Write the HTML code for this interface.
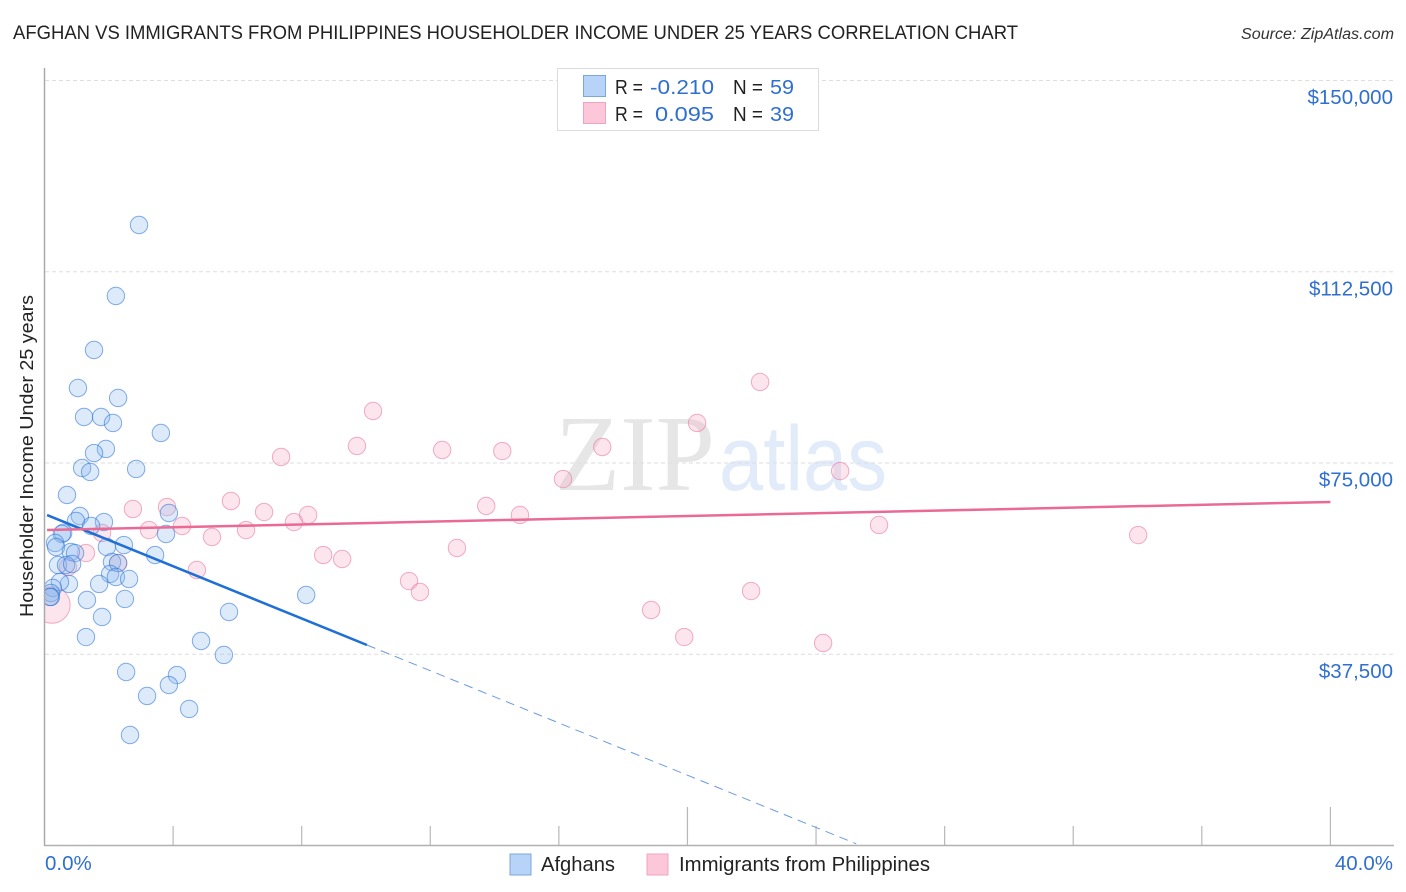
<!DOCTYPE html>
<html lang="en">
<head>
<meta charset="utf-8">
<title>Afghan vs Immigrants from Philippines Householder Income Under 25 Years Correlation Chart</title>
<style>
html,body{margin:0;padding:0;background:#fff;}
svg{display:block;font-family:"Liberation Sans",sans-serif;}
</style>
</head>
<body>
<svg id="chart" width="1406" height="892" viewBox="0 0 1406 892" xmlns="http://www.w3.org/2000/svg">
  <text x="13" y="39" font-size="19.5" fill="#222" textLength="1005" lengthAdjust="spacingAndGlyphs">AFGHAN VS IMMIGRANTS FROM PHILIPPINES HOUSEHOLDER INCOME UNDER 25 YEARS CORRELATION CHART</text>
  <text x="1241" y="39" font-size="15.5" font-style="italic" fill="#333" textLength="153" lengthAdjust="spacingAndGlyphs">Source: ZipAtlas.com</text>

  <g>
    <text x="555" y="490" font-family="'Liberation Serif',serif" font-size="108" fill="#e6e6e6" textLength="160" lengthAdjust="spacingAndGlyphs">ZIP</text>
    <text x="719" y="490" font-size="92" fill="#e1ebf9" textLength="168" lengthAdjust="spacingAndGlyphs">atlas</text>
  </g>

  <g id="grid"></g>
  <g id="marks"></g>
  <rect x="0" y="60" width="45" height="800" fill="#fff"/>
  <g id="axes"></g>
  <g id="trends"></g>

  <text transform="translate(33,456) rotate(-90)" text-anchor="middle" font-size="18.5" fill="#222" textLength="322" lengthAdjust="spacingAndGlyphs">Householder Income Under 25 years</text>

  <g>
    <rect x="557.5" y="68.5" width="261" height="62" fill="#fff" stroke="#dcdcdc" stroke-width="1"/>
    <rect x="583.5" y="75.5" width="22" height="21" fill="#b7d3f7" stroke="#7ba7de"/>
    <rect x="583.5" y="102.5" width="22" height="21" fill="#fcc7d8" stroke="#f0a5bd"/>
    <g font-size="20">
      <text x="615" y="94" fill="#222" textLength="28" lengthAdjust="spacingAndGlyphs">R =</text>
      <text x="650" y="94" fill="#2f6fd0" textLength="64" lengthAdjust="spacingAndGlyphs">-0.210</text>
      <text x="733" y="94" fill="#222" textLength="30" lengthAdjust="spacingAndGlyphs">N =</text>
      <text x="770" y="94" fill="#2f6fd0" textLength="24" lengthAdjust="spacingAndGlyphs">59</text>
      <text x="615" y="121" fill="#222" textLength="28" lengthAdjust="spacingAndGlyphs">R =</text>
      <text x="655" y="121" fill="#2f6fd0" textLength="59" lengthAdjust="spacingAndGlyphs">0.095</text>
      <text x="733" y="121" fill="#222" textLength="30" lengthAdjust="spacingAndGlyphs">N =</text>
      <text x="770" y="121" fill="#2f6fd0" textLength="24" lengthAdjust="spacingAndGlyphs">39</text>
    </g>
  </g>

  <g>
    <g>
      <rect x="510" y="854" width="21" height="21" fill="#b7d3f7" stroke="#7ba7de"/>
      <text x="541" y="871" font-size="20" fill="#222" textLength="74" lengthAdjust="spacingAndGlyphs">Afghans</text>
    </g>
    <g>
      <rect x="647" y="854" width="21" height="21" fill="#fcc7d8" stroke="#f0a5bd"/>
      <text x="679" y="871" font-size="20" fill="#222" textLength="251" lengthAdjust="spacingAndGlyphs">Immigrants from Philippines</text>
    </g>
  </g>
</svg>
<script>
const yTickValues = [37500, 75000, 112500, 150000];
const yTickLabels = ["$37,500", "$75,000", "$112,500", "$150,000"];
const xTickValues = [4, 8, 12, 16, 20, 24, 28, 32, 36, 40];
const xMajorTicks = [20, 40];
const xEndLabels = ["0.0%", "40.0%"];

const afghanX = [2.94,2.22,1.54,1.04,2.29,1.23,1.76,2.13,3.62,1.91,1.54,1.17,1.42,2.85,0.70,1.10,0.98,1.85,1.45,3.87,3.78,0.58,0.54,0.33,0.36,2.47,1.94,0.82,0.95,3.44,0.42,0.67,0.86,2.10,2.29,2.04,2.22,2.63,0.76,0.48,1.70,0.26,0.20,0.20,0.17,1.32,2.50,1.79,1.29,5.74,8.14,4.87,5.58,2.54,4.12,3.87,3.19,4.50,2.66];
const afghanY = [121570,107650,97060,89610,87650,83920,83920,82750,80790,77650,76860,73920,73140,73730,68630,64510,63530,63330,62550,65100,60980,61180,60980,59220,58430,58820,58430,57450,57250,56860,54900,54900,55100,55490,55290,53140,52550,52160,51180,51570,51180,50390,49410,48630,48630,48040,48240,44710,40780,45690,49020,40000,37260,33920,33330,31370,29220,26670,21570];

const philippinesX = [0.23,22.26,10.22,20.30,9.72,12.37,14.24,17.35,7.36,24.75,16.13,13.74,14.79,5.80,2.75,3.81,6.83,8.20,7.76,3.25,4.28,6.27,5.21,1.79,25.96,34.02,12.83,8.67,9.26,1.29,2.29,0.73,4.74,11.34,11.68,21.98,18.87,19.90,24.22];
const philippinesY = [47060,90790,85100,82750,78240,77450,77250,78040,76080,73330,71760,66470,64710,67450,65880,66270,65290,64710,63330,61760,62550,61760,60390,61180,62750,60780,58240,56860,56080,57250,55290,54510,53920,51760,49610,49800,46080,40780,39610];
const philippinesWeight = [2.1,1,1,1,1,1,1,1,1,1,1,1,1,1,1,1,1,1,1,1,1,1,1,1,1,1,1,1,1,1,1,1,1,1,1,1,1,1,1];

const afghanTrendX = [0.08, 10.03, 25.25];
const afghanTrendY = [64700, 39220, 240];
const philippinesTrendX = [0.08, 40];
const philippinesTrendY = [61760, 67260];

const NS = "http://www.w3.org/2000/svg";
function xScale(v) { return 44.5 + v * (1330.4 - 44.5) / 40; }
function yScale(v) { return 845 - v * (845 - 80) / 150000; }
function make(tag, attrs, parent) {
  const el = document.createElementNS(NS, tag);
  for (const k in attrs) el.setAttribute(k, attrs[k]);
  parent.appendChild(el);
  return el;
}
const gridG = document.getElementById("grid");
const axesG = document.getElementById("axes");
const marksG = document.getElementById("marks");
const trendsG = document.getElementById("trends");

yTickValues.forEach(function (v, i) {
  const line = make("line", {x1: 45, x2: 1394, y1: yScale(v) + 0.5, y2: yScale(v) + 0.5, stroke: "#dedede", "stroke-width": 1, "stroke-dasharray": "4 3"}, gridG);
  
  
  const label = make("text", {x: 1393, y: yScale(v) + 24, "text-anchor": "end", "font-size": 20.5, fill: "#2f6fd0"}, axesG);
  label.textContent = yTickLabels[i];
  
  
});

const yAxisLine = make("line", {x1: 44.5, x2: 44.5, y1: 68, y2: 846, stroke: "#aaa", "stroke-width": 1.5}, axesG);


const xAxisLine = make("line", {x1: 44, x2: 1394, y1: 845.5, y2: 845.5, stroke: "#b0b0b0", "stroke-width": 1.5}, axesG);



xTickValues.forEach(function (v) {
  const tall = xMajorTicks.indexOf(v) >= 0;
  const tick = make("line", {x1: xScale(v), x2: xScale(v), y1: tall ? 807 : 826, y2: 845, stroke: "#b8b8b8", "stroke-width": 1.2}, axesG);
  
  
});

const xLabelLeft = make("text", {x: 45, y: 870, "font-size": 20.5, fill: "#2f6fd0"}, axesG);
xLabelLeft.textContent = xEndLabels[0];


const xLabelRight = make("text", {x: 1393, y: 870, "text-anchor": "end", "font-size": 20.5, fill: "#2f6fd0"}, axesG);
xLabelRight.textContent = xEndLabels[1];



philippinesX.forEach(function (v, i) {
  const c = make("circle", {cx: xScale(v), cy: yScale(philippinesY[i]), r: 8.7 * philippinesWeight[i], fill: "rgba(248,170,195,0.3)", stroke: "rgba(232,120,160,0.6)", "stroke-width": 1}, marksG);
  
  
});
afghanX.forEach(function (v, i) {
  const c = make("circle", {cx: xScale(v), cy: yScale(afghanY[i]), r: 8.7, fill: "rgba(140,185,240,0.3)", stroke: "rgba(45,115,215,0.58)", "stroke-width": 1}, marksG);
  
  
});

const afghanSolid = make("line", {x1: xScale(afghanTrendX[0]), y1: yScale(afghanTrendY[0]), x2: xScale(afghanTrendX[1]), y2: yScale(afghanTrendY[1]), stroke: "#1f6fd6", "stroke-width": 2.5}, trendsG);


const afghanDash = make("line", {x1: xScale(afghanTrendX[1]), y1: yScale(afghanTrendY[1]), x2: xScale(afghanTrendX[2]), y2: yScale(afghanTrendY[2]), stroke: "#6a9be0", "stroke-width": 1, "stroke-dasharray": "9 6"}, trendsG);


const pinkTrend = make("line", {x1: xScale(philippinesTrendX[0]), y1: yScale(philippinesTrendY[0]), x2: xScale(philippinesTrendX[1]), y2: yScale(philippinesTrendY[1]), stroke: "#ea6a95", "stroke-width": 2.5}, trendsG);


</script>
</body>
</html>
